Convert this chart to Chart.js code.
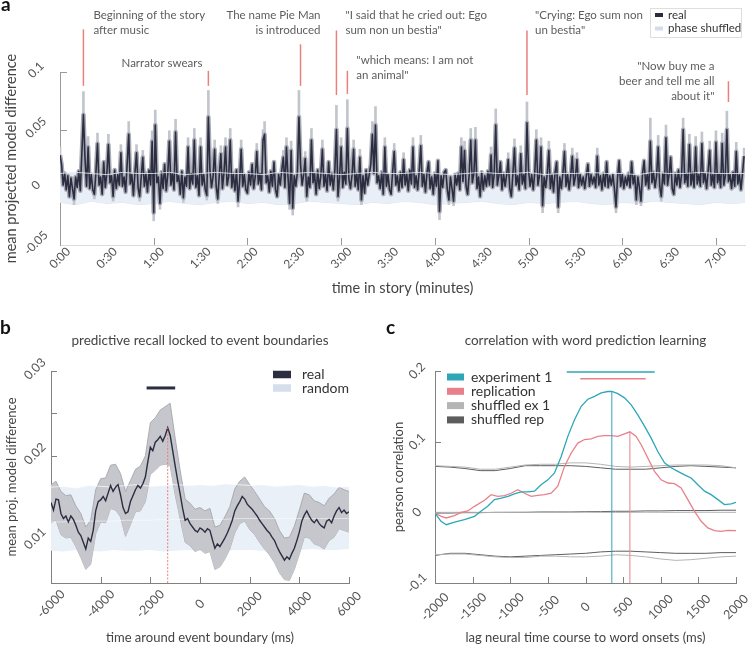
<!DOCTYPE html>
<html lang="en">
<head>
<meta charset="utf-8">
<title>Predictive recall figure</title>
<script src="https://cdn.jsdelivr.net/npm/chart.js@4.4.1/dist/chart.umd.min.js"></script>
<style>
  html, body { margin: 0; padding: 0; background: #fff; }
  #page { position: relative; width: 748px; height: 646px; overflow: hidden; }
  .panel { position: absolute; }
</style>
</head>
<body>
<div id="page">
  <div class="panel" style="left:0;top:0;width:748px;height:305px"><canvas id="panelA"></canvas></div>
  <div class="panel" style="left:0;top:305px;width:374px;height:341px"><canvas id="panelB"></canvas></div>
  <div class="panel" style="left:374px;top:305px;width:374px;height:341px"><canvas id="panelC"></canvas></div>
</div>
<script>
// ---------- panel a: story time course (one value per second, x1e-3) ----------
const storyReal = [
  28, 20, 2, 12, -2, 10, -8, 8, -1, -10,
  9, 0, 14, -3, 30, 63, 25, 1, 35, -1,
  11, -2, -6, 13, 38, 2, 9, -6, 22, 0,
  12, 37, 4, 10, -8, 15, -1, 11, 2, 30,
  1, 9, -4, 20, 46, 3, 11, -7, 13, 30,
  0, -8, 9, 26, 1, 12, -4, 15, 2, 40,
  -22, 54, 4, 9, -14, 13, -1, 20, -3, 11,
  40, 2, 12, -2, 48, 5, 10, -6, 14, -9,
  9, 1, 35, -1, 12, 3, 41, 0, 10, -7,
  35, 2, 11, -2, -7, 61, 15, 0, 9, 33,
  1, -10, 11, 29, -1, 13, 35, 2, 9, 41,
  0, 12, -3, 15, -12, 5, 33, 1, 11, -2,
  -5, 13, 2, 20, -1, 9, 31, 3, 12, -2,
  41, 46, 4, 10, -4, 14, 1, 22, -2, -8,
  11, 2, 15, 26, 0, 35, 9, -14, 32, -18,
  10, 1, 13, 61, 20, 2, 11, 25, -8, 9,
  0, 41, 4, 12, -6, 15, -1, 10, 33, 1,
  11, -3, 22, 2, 12, -2, 15, 50, -8, 9,
  35, 0, 13, 3, 51, 7, -1, 11, 33, 1,
  12, -2, 26, -11, 10, -5, 15, 2, 11, 20,
  46, 12, 54, 4, 10, -1, 13, -6, 35, 1,
  11, -2, -6, 14, 31, 2, 10, -3, 13, 0,
  24, 2, 12, -3, 15, 3, 35, 0, 10, -2,
  14, 36, 1, 11, -4, 13, 22, -1, 9, -6,
  12, 1, 23, -21, 10, 0, 13, 15, -2, -11,
  9, -1, -12, 11, 2, 12, -2, 35, 5, 32,
  1, -6, 11, 41, 4, 12, 41, -1, 9, -8,
  13, -2, 10, 1, 14, 2, 28, 0, 11, 54,
  2, 10, 22, -2, 12, 1, 11, 24, -1, -8,
  12, 34, 2, 10, -2, 29, 3, 11, -1, 56,
  15, 1, 11, -2, 13, 41, 2, 10, 35, -16,
  9, 0, 12, 32, -1, 11, -4, 13, 22, -17,
  9, -1, 12, 31, 1, 11, -2, 10, 27, 2,
  9, 24, 0, 11, 2, 9, -1, 10, 20, 1,
  11, 3, 9, 0, 27, 2, 10, -2, 12, 1,
  22, 0, 10, 2, 11, -1, -17, 9, 23, 1,
  11, -1, 9, 2, 12, 0, 22, 3, 10, -11,
  9, 0, -12, 12, 23, 2, 11, -1, 40, 4,
  13, 0, 10, 35, 1, -8, 12, 3, 43, 2,
  11, 26, -1, -6, 12, 2, 15, 0, 11, 50,
  4, 12, 1, 37, 2, 13, 0, 35, 3, 11,
  1, 38, 4, 12, -1, 14, 32, 2, 11, 0,
  39, 4, 12, 0, 38, 2, 10, 50, 5, 11,
  -1, 13, 1, 31, 3, 11, -2, 12, 27
];
// upper confidence reach of the larger peaks and dips (seconds, x1e-3)
const peakTimes = [0, 15, 18, 24, 31, 39, 44, 49, 53, 59, 61, 70, 74, 82, 86, 90, 95, 99, 103, 106, 109, 116, 126, 130, 131, 143, 145, 148, 153, 157, 161, 168, 177, 180, 184, 188, 192, 200, 202, 208, 214, 220, 226, 231, 257, 259, 263, 266, 276, 279, 287, 291, 295, 299, 305, 308, 313, 323, 328, 331, 344, 378, 383, 388, 399, 403, 407, 411, 416, 420, 424, 427, 433, 438];
const peakCiTop = [35, 83, 44, 47, 46, 37, 57, 37, 32, 49, 67, 49, 59, 43, 51, 43, 84, 41, 36, 43, 51, 41, 38, 50, 57, 32, 43, 40, 84, 31, 51, 41, 71, 43, 76, 41, 33, 57, 70, 43, 38, 30, 43, 45, 43, 40, 51, 52, 35, 68, 30, 42, 36, 74, 50, 43, 40, 38, 34, 30, 34, 60, 45, 54, 60, 46, 44, 48, 40, 49, 47, 66, 39, 34];
const dipTimes = [9, 22, 34, 51, 60, 64, 79, 94, 101, 114, 147, 149, 158, 178, 193, 243, 249, 252, 309, 319, 356, 369, 372, 385];
const dipCiBottom = [-15, -10, -12, -12, -29, -19, -13, -11, -14, -17, -19, -24, -12, -12, -15, -28, -15, -16, -22, -22, -22, -15, -16, -12];
// phase shuffled band, one value every 10 s (x1e-3)
const shuffledTop = [12, 13, 12, 11, 13, 12, 12, 13, 11, 12, 13, 12, 12, 11, 13, 12, 13, 12, 11, 12, 13, 12, 12, 13, 12, 11, 12, 13, 12, 12, 13, 11, 12, 12, 13, 12, 12, 11, 13, 12, 12, 13, 12, 12, 12];
const shuffledBottom = [-13, -15, -12, -14, -13, -15, -14, -12, -14, -15, -13, -12, -14, -13, -15, -14, -12, -13, -14, -15, -13, -14, -12, -13, -15, -14, -13, -12, -14, -15, -13, -14, -13, -12, -14, -15, -13, -14, -12, -13, -14, -15, -13, -14, -13];
// story events (seconds) and the red markers above them (x1e-3)
const eventTimes = [15, 95, 154, 177, 184, 299, 428];
const eventLineTop = [137, 101, 124, 136, 101, 136, 92];
const eventLineBottom = [88, 88, 88, 80, 81, 80, 74];
const eventLabels = [
  ['Beginning of the story', 'after music'],
  ['Narrator swears'],
  ['The name Pie Man', 'is introduced'],
  ['"I said that he cried out: Ego', 'sum non un bestia"'],
  ['"which means: I am not', 'an animal"'],
  ['"Crying: Ego sum non', 'un bestia"'],
  ['"Now buy me a', 'beer and tell me all', 'about it"']
];

// ---------- panel b: locked to event boundaries (x1e-3) ----------
const recallReal = [ // every 100 ms from -6000
  14.5, 13.6, 14.9, 14.8, 13.2, 12.6, 12.9, 12.2, 12.9, 12.5,
  11.8, 11.0, 10.6, 9.8, 9.0, 10.3, 9.9, 11.2, 13.5, 14.6,
  14.8, 15.2, 14.7, 15.6, 16.5, 15.8, 16.3, 16.6, 15.4, 13.9,
  13.2, 13.4, 14.6, 15.3, 16.0, 16.5, 16.2, 16.7, 17.5, 19.3,
  21.0, 20.6, 21.6, 21.9, 22.3, 21.7, 22.4, 23.3, 22.4, 20.6,
  18.8, 17.1, 15.5, 13.8, 12.4, 12.6, 12.0, 11.6, 11.2, 11.0,
  11.5, 11.3, 11.0, 11.4, 11.2, 10.1, 9.1, 9.6, 9.3, 9.8,
  10.3, 10.9, 11.6, 12.4, 13.5, 14.1, 14.6, 15.2, 14.9, 14.3,
  14.0, 13.7, 13.3, 12.9, 12.4, 12.0, 11.6, 11.2, 10.9, 10.4,
  10.0, 9.3, 8.7, 8.2, 7.7, 8.1, 7.8, 8.5, 9.1, 10.0,
  11.0, 12.3, 13.0, 13.5, 12.9, 12.4, 12.1, 12.5, 12.0, 11.7,
  11.5, 12.3, 12.5, 12.1, 12.9, 13.5, 13.9, 13.3, 13.6, 13.2,
  13.4
];
const recallCiHi = [ // every 200 ms from -6000
  16.6, 17.0, 15.8, 15.3, 15.4, 14.1, 13.2, 11.6, 12.4, 16.0,
  17.3, 17.4, 18.9, 19.0, 17.9, 15.8, 17.1, 18.4, 18.8, 20.0,
  23.9, 24.5, 25.4, 25.8, 26.2, 22.1, 18.3, 14.9, 14.4, 13.7,
  13.9, 13.5, 13.8, 11.6, 11.8, 12.8, 14.0, 16.1, 17.0, 17.5,
  16.6, 15.8, 14.9, 14.0, 13.5, 12.6, 11.2, 10.3, 10.4, 11.7,
  13.6, 15.6, 15.4, 14.7, 14.5, 14.1, 15.0, 15.5, 16.3, 16.0,
  15.8
];
const recallCiLo = [
  12.1, 12.4, 10.7, 10.3, 10.4, 9.3, 8.0, 6.6, 7.2, 10.8,
  12.2, 12.1, 13.8, 13.6, 12.8, 10.5, 11.9, 13.4, 13.5, 14.6,
  17.8, 18.3, 18.9, 19.0, 18.8, 15.4, 12.6, 9.8, 9.4, 8.7,
  9.0, 8.5, 8.7, 6.6, 6.9, 7.8, 9.0, 10.9, 12.0, 12.3,
  11.3, 10.7, 9.8, 9.0, 8.3, 7.4, 6.2, 5.4, 5.3, 6.6,
  8.4, 10.4, 10.3, 9.6, 9.4, 9.0, 10.0, 10.4, 11.4, 11.2,
  11.0
];
const randomTop = [16.3, 16.4, 16.2, 16.5, 16.4, 16.3, 16.5, 16.6, 16.4, 16.5, 16.6, 16.5, 16.6, 16.5, 16.7, 16.6, 16.5, 16.6, 16.4, 16.5, 16.6, 16.4, 16.5, 16.3, 16.4];
const randomMean = [12.2, 12.2, 12.3, 12.3, 12.3, 12.3, 12.4, 12.4, 12.4, 12.5, 12.5, 12.5, 12.5, 12.5, 12.5, 12.6, 12.6, 12.6, 12.6, 12.6, 12.6, 12.6, 12.6, 12.6, 12.6];
const randomBottom = [8.8, 8.7, 8.9, 8.8, 8.7, 8.9, 8.8, 8.8, 8.9, 8.7, 8.8, 8.9, 8.8, 8.9, 8.8, 8.9, 8.9, 8.8, 9.0, 8.9, 8.9, 9.0, 8.9, 8.9, 9.0];
const recallSigWindow = [-2150, -1000];
const recallPeakMs = -1300;

// ---------- panel c: correlation with word prediction learning ----------
const exp1Lag = [-2000, -1920, -1850, -1740, -1610, -1475, -1390, -1300, -1210, -1120, -1030, -945, -855, -766, -678, -590, -500, -412, -323, -235, -146, -57, 31, 120, 208, 297, 350, 430, 518, 607, 695, 784, 873, 961, 1050, 1138, 1227, 1316, 1404, 1493, 1582, 1670, 1760, 1847, 1936, 2000];
const exp1R = [-0.001, -0.0127, -0.0175, -0.014, -0.0104, -0.0057, 0.0014, 0.0085, 0.018, 0.020, 0.0226, 0.026, 0.029, 0.029, 0.030, 0.039, 0.046, 0.0557, 0.079, 0.1075, 0.131, 0.150, 0.160, 0.164, 0.169, 0.171, 0.171, 0.168, 0.162, 0.152, 0.138, 0.122, 0.105, 0.086, 0.070, 0.063, 0.058, 0.053, 0.0486, 0.039, 0.030, 0.025, 0.018, 0.011, 0.012, 0.014];
const replLag = [-2000, -1918, -1852, -1741, -1652, -1564, -1475, -1342, -1254, -1165, -1076, -988, -899, -811, -722, -633, -545, -456, -368, -279, -190, -102, -13, 75, 164, 253, 341, 430, 518, 590, 673, 740, 828, 917, 1005, 1094, 1183, 1271, 1360, 1449, 1537, 1626, 1714, 1803, 1892, 2000];
const replR = [-0.001, -0.0057, -0.008, -0.0047, 0.0, 0.002, 0.0085, 0.017, 0.025, 0.0226, 0.0236, 0.027, 0.032, 0.027, 0.0226, 0.024, 0.025, 0.027, 0.037, 0.065, 0.084, 0.098, 0.103, 0.104, 0.1075, 0.1085, 0.1085, 0.1075, 0.111, 0.114, 0.1075, 0.0957, 0.077, 0.058, 0.046, 0.0415, 0.0405, 0.0344, 0.018, 0.0014, -0.0127, -0.022, -0.026, -0.027, -0.0255, -0.026];
// shuffled bounds, every 200 ms from -2000 (x1e-3)
const shufEx1Upper = [66, 65, 64, 61, 61, 64, 67, 68, 68, 70, 70, 68, 65, 64, 65, 66, 67, 67, 67, 66, 63];
const shufEx1Mid = [0, 0, 0.2, 0, -0.2, 0, 0.1, 0, -0.1, 0, 0.2, 0, -0.1, 0, 0.1, 0, -0.1, 0, 0.1, 0, 0];
const shufEx1Lower = [-60, -59, -59, -61, -63, -64, -64, -62, -62, -63, -63, -62, -60, -61, -63, -66, -68, -67, -65, -63, -62];
const shufRepUpper = [65, 64, 62, 59, 59, 62, 66, 66, 66, 66, 65, 63, 61, 61, 61, 63, 65, 66, 65, 64, 63];
const shufRepMid = [-1, -1, -0.5, -0.5, 0, 0, 0, 0.5, 0.5, 0.5, 1, 1, 1.5, 1.5, 2, 2, 2.5, 2.5, 2.5, 3, 3];
const shufRepLower = [-61, -58, -58, -60, -62, -63, -62, -61, -60, -59, -58, -56, -55, -55, -56, -57, -58, -58, -58, -57, -57];
const exp1PeakLag = 350, exp1PeakR = 0.171;
const replPeakLag = 590, replPeakR = 0.114;
const exp1SigWindow = [-250, 920];
const replSigWindow = [-70, 800];

// ---------- shared styling ----------
const FONT = 'Lato, "Open Sans", sans-serif';
const REAL = '#2b2d41';
const TEAL = '#2fa6b8';
const PINK = '#e8808b';
const SHUF_LIGHT = '#b4b4b4';
const SHUF_DARK = '#5d5d5d';

Chart.defaults.font.family = FONT;
Chart.defaults.animation = false;
Chart.defaults.events = [];
Chart.defaults.plugins.legend.display = false;
Chart.defaults.plugins.tooltip.enabled = false;
Chart.defaults.elements.point.radius = 0;
Chart.defaults.elements.line.tension = 0;

const milli = v => v / 1000;
const series = (arr, start, step, scale = milli) => arr.map((v, i) => ({ x: start + i * step, y: scale(v) }));
const pairs = (xs, ys) => xs.map((x, i) => ({ x, y: ys[i] }));
const segment = (x0, y0, x1, y1) => [{ x: x0, y: y0 }, { x: x1, y: y1 }];

// linear axis with fixed thickness; ticks are drawn by the decor plugin
const axis = (min, max, step, size, border, callback, extra = {}) => ({
  type: 'linear', min, max, offset: false,
  ticks: { display: false, stepSize: step, callback, ...extra },
  grid: { display: false },
  border: { display: true, color: border, width: 1 },
  afterFit: s => { if (s.isHorizontal()) s.height = size; else s.width = size; }
});

const fmtNum = v => String(Math.round(v * 1000) / 1000);

// inward tick marks, rotated tick labels, axis titles, panel title and letter
function axisDecor(cfg) {
  const rotated = (ctx, px, py, s, angle) => {
    ctx.save(); ctx.translate(px, py); ctx.rotate(angle); ctx.fillText(s, 0, 0); ctx.restore();
  };
  return {
    id: 'axisDecor',
    beforeDatasetsDraw(chart) {
      const { ctx, chartArea: a, scales: { x, y } } = chart;
      ctx.save();
      ctx.strokeStyle = cfg.tickColor; ctx.lineWidth = 1;
      x.ticks.forEach(t => {
        if (cfg.xMarkEvery && Math.round(t.value) % cfg.xMarkEvery !== 0) return;
        if (t.value === x.min) return;
        const px = Math.round(x.getPixelForValue(t.value)) + 0.5;
        ctx.beginPath(); ctx.moveTo(px, a.bottom); ctx.lineTo(px, a.bottom - cfg.tickLen); ctx.stroke();
      });
      y.ticks.forEach(t => {
        if (Math.abs(t.value - y.min) < 1e-9) return;
        const py = Math.round(y.getPixelForValue(t.value)) + 0.5;
        ctx.beginPath(); ctx.moveTo(a.left, py); ctx.lineTo(a.left + cfg.tickLen, py); ctx.stroke();
      });
      ctx.restore();
    },
    afterDraw(chart) {
      const { ctx, chartArea: a, scales: { x, y } } = chart;
      ctx.save();
      ctx.fillStyle = '#555'; ctx.font = cfg.tickFont;
      ctx.textAlign = 'center'; ctx.textBaseline = 'middle';
      x.ticks.forEach(t => t.label && rotated(ctx, x.getPixelForValue(t.value), a.bottom + cfg.xLabelDy, t.label, -Math.PI / 4));
      y.ticks.forEach(t => t.label && rotated(ctx, a.left + cfg.yLabelDx, y.getPixelForValue(t.value) + cfg.yLabelDy, t.label, -Math.PI / 4));
      ctx.fillStyle = '#444'; ctx.font = cfg.axisFont;
      ctx.fillText(cfg.xTitle, (a.left + a.right) / 2, a.bottom + cfg.xTitleDy);
      rotated(ctx, cfg.yTitleX, (a.top + a.bottom) / 2, cfg.yTitle, -Math.PI / 2);
      if (cfg.title) {
        ctx.font = cfg.titleFont;
        ctx.fillText(cfg.title, (a.left + a.right) / 2, cfg.titleY);
      }
      ctx.font = `bold 19px ${FONT}`; ctx.fillStyle = '#111';
      ctx.textAlign = 'left'; ctx.textBaseline = 'alphabetic';
      ctx.fillText(cfg.tag, cfg.tagX, cfg.tagY);
      ctx.restore();
    }
  };
}

// small swatch legend placed by pixel position
function swatchLegend(cfg) {
  return {
    id: 'swatchLegend',
    afterDraw(chart) {
      const ctx = chart.ctx;
      ctx.save();
      if (cfg.frame) {
        ctx.strokeStyle = '#dedede'; ctx.lineWidth = 1;
        ctx.strokeRect(...cfg.frame);
      }
      ctx.font = cfg.font; ctx.textBaseline = 'middle'; ctx.textAlign = 'left';
      cfg.items.forEach((it, i) => {
        const cy = cfg.y + i * cfg.rowH;
        ctx.fillStyle = it.color;
        ctx.fillRect(cfg.x, cy - cfg.sw[1] / 2, cfg.sw[0], cfg.sw[1]);
        ctx.fillStyle = '#333';
        ctx.fillText(it.label, cfg.x + cfg.textDx, cy);
      });
      ctx.restore();
    }
  };
}

// ---------- panel a ----------
const eventLayout = [
  { align: 'left', dx: 10, y: 15.5 },
  { align: 'right', dx: -6, y: 63.5 },
  { align: 'right', dx: 20, y: 15.5 },
  { align: 'left', dx: 9, y: 15.5 },
  { align: 'left', dx: 9, y: 60 },
  { align: 'left', dx: 8, y: 15.5 },
  { align: 'right', dx: -14, y: 66.5 }
];
const eventText = {
  id: 'eventText',
  afterDatasetsDraw(chart) {
    const { ctx, scales: { x } } = chart;
    ctx.save();
    ctx.font = `11.5px ${FONT}`; ctx.fillStyle = '#5d5d5d'; ctx.textBaseline = 'middle';
    eventTimes.forEach((t, i) => {
      const L = eventLayout[i];
      ctx.textAlign = L.align;
      eventLabels[i].forEach((line, k) => ctx.fillText(line, x.getPixelForValue(t) + L.dx, L.y + k * 14.8));
    });
    ctx.restore();
  }
};

const realPts = series(storyReal, 0, 1);
const shufTopPts = series(shuffledTop, 0, 10);
const mmss = v => `${Math.floor(v / 60)}:${String(Math.round(v % 60)).padStart(2, '0')}`;

new Chart(document.getElementById('panelA'), {
  type: 'line',
  data: {
    datasets: [
      { data: shufTopPts, borderColor: 'rgba(238,242,248,0.8)', borderWidth: 1, order: 0 },
      ...eventTimes.map((t, i) => ({
        data: segment(t, milli(eventLineBottom[i]), t, milli(eventLineTop[i])),
        borderColor: '#e8807b', borderWidth: 1.5, clip: false, order: 0
      })),
      { data: realPts, borderColor: REAL, borderWidth: 1.6, borderJoinStyle: 'round', order: 1 },
      { data: realPts, borderColor: '#a9abb5', borderWidth: 4.5, borderJoinStyle: 'round', order: 2 },
      { type: 'bar', data: peakTimes.map((t, i) => ({ x: t, y: [0.014, milli(peakCiTop[i])] })),
        backgroundColor: '#c3c5cd', barThickness: 2, grouped: false, order: 3 },
      { type: 'bar', data: dipTimes.map((t, i) => ({ x: t, y: [milli(dipCiBottom[i]), 0] })),
        backgroundColor: '#c3c5cd', barThickness: 2, grouped: false, order: 3 },
      { data: shufTopPts, borderColor: '#e2e9f2', borderWidth: 1, backgroundColor: '#e9eff6', fill: '+1', order: 4 },
      { data: series(shuffledBottom, 0, 10), borderColor: '#dbe3ee', borderWidth: 1, order: 4 }
    ]
  },
  options: {
    responsive: true, maintainAspectRatio: false,
    layout: { padding: { top: 72, right: 3, left: 0, bottom: 0 } },
    scales: {
      x: axis(0, 438.6, 30, 60, '#dcdcdc', mmss, { includeBounds: false }),
      y: axis(-0.05, 0.1, 0.05, 60, '#9a9a9a', fmtNum)
    }
  },
  plugins: [
    axisDecor({
      tickColor: '#9a9a9a', tickLen: 7, xMarkEvery: 60,
      tickFont: `12px ${FONT}`, xLabelDy: 13, yLabelDx: -24, yLabelDy: -2,
      axisFont: `14.5px ${FONT}`, xTitle: 'time in story (minutes)', xTitleDy: 43,
      yTitle: 'mean projected model difference', yTitleX: 11,
      tag: 'a', tagX: 1, tagY: 11
    }),
    eventText,
    swatchLegend({
      frame: [650.5, 8.5, 91, 29], x: 655, y: 15, rowH: 13.5, sw: [8, 4], textDx: 13,
      font: `11.5px ${FONT}`,
      items: [{ label: 'real', color: '#2a2d40' }, { label: 'phase shuffled', color: '#d3dce7' }]
    })
  ]
});

// ---------- panel b ----------
new Chart(document.getElementById('panelB'), {
  type: 'line',
  data: {
    datasets: [
      { data: segment(recallSigWindow[0], 0.028, recallSigWindow[1], 0.028), borderColor: REAL, borderWidth: 3, clip: false, order: 0 },
      { data: segment(recallPeakMs, 0.005, recallPeakMs, 0.0233), borderColor: '#ef7d7d', borderWidth: 1, borderDash: [2, 1.5], order: 0 },
      { data: series(recallReal, -6000, 100), borderColor: REAL, borderWidth: 1.4, order: 1 },
      { data: series(randomTop, -6000, 500), borderColor: 'rgba(255,255,255,0.7)', borderWidth: 1, order: 2 },
      { data: series(randomMean, -6000, 500), borderColor: 'rgba(255,255,255,0.5)', borderWidth: 1, order: 2 },
      { data: series(recallCiHi, -6000, 200), borderColor: '#9fa0a8', borderWidth: 0.8, backgroundColor: '#c6c7cc', fill: '+1', order: 3 },
      { data: series(recallCiLo, -6000, 200), borderColor: '#9fa0a8', borderWidth: 0.8, order: 3 },
      { data: series(randomTop, -6000, 500), borderColor: 'transparent', backgroundColor: '#eaf0f7', fill: '+1', order: 4 },
      { data: series(randomBottom, -6000, 500), borderColor: 'transparent', order: 4 }
    ]
  },
  options: {
    responsive: true, maintainAspectRatio: false,
    layout: { padding: { top: 66, right: 25, left: 0, bottom: 0 } },
    scales: {
      x: axis(-6000, 6000, 2000, 63, '#808080', v => String(v)),
      y: axis(0.005, 0.03, 0.005, 51, '#808080', v => {
        const r = Math.round(v * 1000);
        return r % 10 === 0 ? String(r / 1000) : '';
      })
    }
  },
  plugins: [
    axisDecor({
      tickColor: '#808080', tickLen: 6,
      tickFont: `12.5px ${FONT}`, xLabelDy: 21, yLabelDx: -16, yLabelDy: -2,
      axisFont: `13px ${FONT}`, xTitle: 'time around event boundary (ms)', xTitleDy: 55,
      yTitle: 'mean proj. model difference', yTitleX: 12,
      title: 'predictive recall locked to event boundaries', titleFont: `13.5px ${FONT}`, titleY: 36,
      tag: 'b', tagX: 0, tagY: 29
    }),
    swatchLegend({
      x: 273, y: 69.5, rowH: 13.5, sw: [18, 7.5], textDx: 29, font: `14px ${FONT}`,
      items: [{ label: 'real', color: '#2b2d40' }, { label: 'random', color: '#d5deea' }]
    })
  ]
});

// ---------- panel c ----------
const shufLine = (arr, color) => ({ data: series(arr, -2000, 200), borderColor: color, borderWidth: 1, order: 2 });
new Chart(document.getElementById('panelC'), {
  type: 'line',
  data: {
    datasets: [
      { data: segment(exp1PeakLag, -0.1, exp1PeakLag, exp1PeakR), borderColor: TEAL, borderWidth: 1, order: 0 },
      { data: segment(replPeakLag, -0.1, replPeakLag, replPeakR), borderColor: PINK, borderWidth: 1, order: 0 },
      { data: segment(exp1SigWindow[0], 0.1985, exp1SigWindow[1], 0.1985), borderColor: TEAL, borderWidth: 1.5, clip: false, order: 0 },
      { data: segment(replSigWindow[0], 0.189, replSigWindow[1], 0.189), borderColor: PINK, borderWidth: 1.5, clip: false, order: 0 },
      { data: pairs(exp1Lag, exp1R), borderColor: TEAL, borderWidth: 1.3, order: 1 },
      { data: pairs(replLag, replR), borderColor: PINK, borderWidth: 1.3, order: 1 },
      shufLine(shufEx1Upper, SHUF_LIGHT), shufLine(shufEx1Mid, SHUF_LIGHT), shufLine(shufEx1Lower, SHUF_LIGHT),
      shufLine(shufRepUpper, SHUF_DARK), shufLine(shufRepMid, SHUF_DARK), shufLine(shufRepLower, SHUF_DARK)
    ]
  },
  options: {
    responsive: true, maintainAspectRatio: false,
    layout: { padding: { top: 66, right: 12, left: 0, bottom: 0 } },
    scales: {
      x: axis(-2000, 2000, 500, 63, '#808080', v => String(v)),
      y: axis(-0.1, 0.2, 0.1, 61, '#808080', v => String(Math.round(v * 10) / 10))
    }
  },
  plugins: [
    axisDecor({
      tickColor: '#808080', tickLen: 6,
      tickFont: `12.5px ${FONT}`, xLabelDy: 24, yLabelDx: -18, yLabelDy: 0,
      axisFont: `13px ${FONT}`, xTitle: 'lag neural time course to word onsets (ms)', xTitleDy: 55,
      yTitle: 'pearson correlation', yTitleX: 25,
      title: 'correlation with word prediction learning', titleFont: `13.5px ${FONT}`, titleY: 36,
      tag: 'c', tagX: 12, tagY: 29
    }),
    swatchLegend({
      x: 73, y: 72, rowH: 14.3, sw: [17, 7], textDx: 24, font: `14px ${FONT}`,
      items: [
        { label: 'experiment 1', color: TEAL },
        { label: 'replication', color: PINK },
        { label: 'shuffled ex 1', color: SHUF_LIGHT },
        { label: 'shuffled rep', color: SHUF_DARK }
      ]
    })
  ]
});
</script>
</body>
</html>
